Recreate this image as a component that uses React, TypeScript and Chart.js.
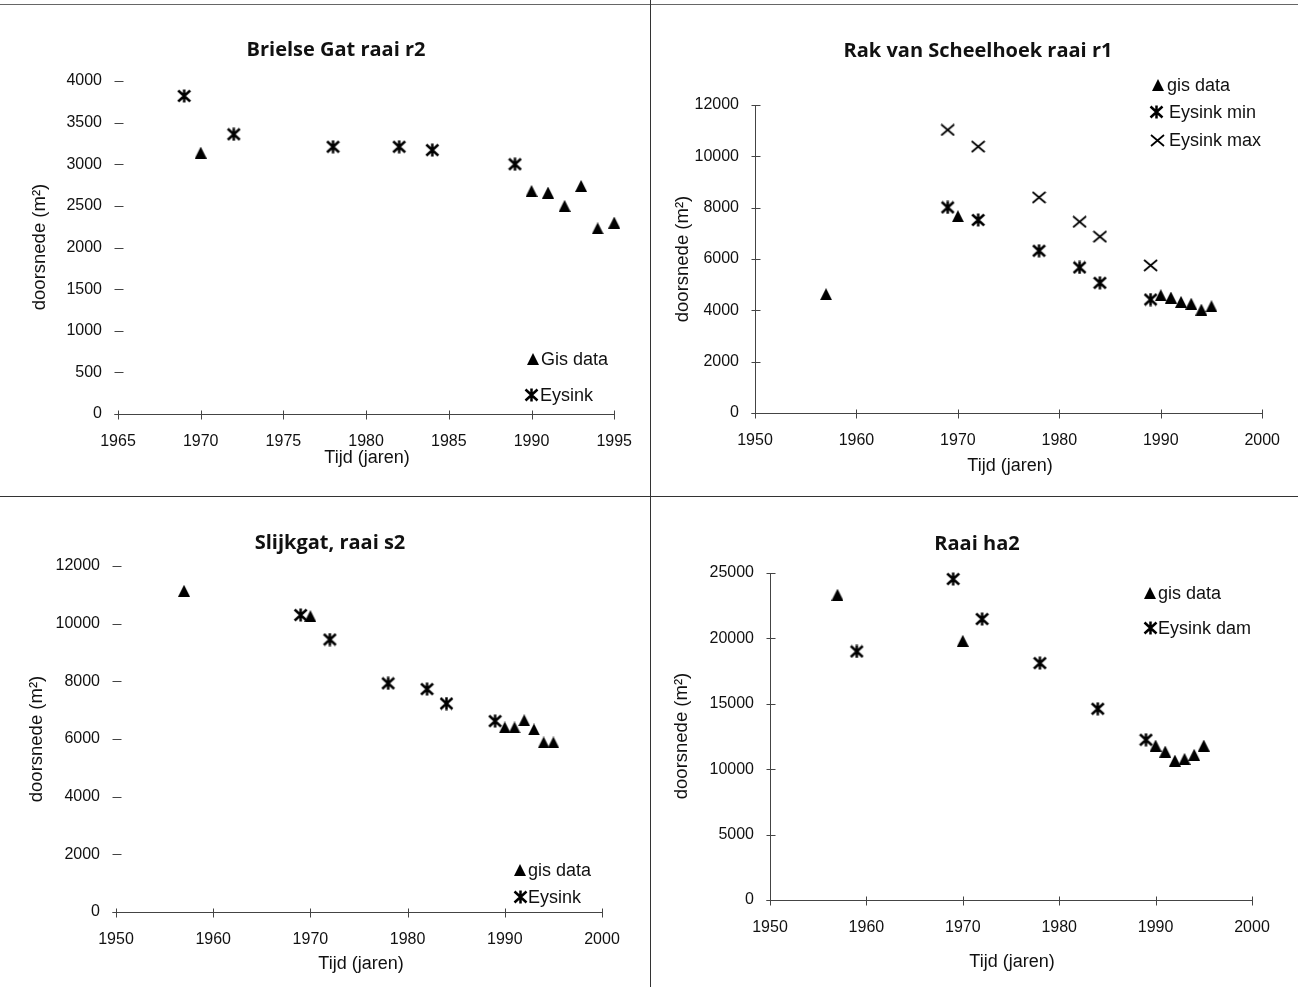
import React, { useEffect, useRef } from 'react';
import { Chart, registerables } from 'chart.js';

Chart.register(...registerables);

// ---------- DATA ----------
// Panel 1: Brielse Gat raai r2
const brielseGisYears = [1970, 1990, 1991, 1992, 1993, 1994, 1995];
const brielseGisValues = [3140, 2680, 2660, 2500, 2740, 2230, 2300];
const brielseEysinkYears = [1969, 1972, 1978, 1982, 1984, 1989];
const brielseEysinkValues = [3820, 3360, 3210, 3210, 3170, 3000];

// Panel 2: Rak van Scheelhoek raai r1
const rakGisYears = [1957, 1970, 1990, 1991, 1992, 1993, 1994, 1995];
const rakGisValues = [4630, 7670, 4590, 4500, 4330, 4260, 4030, 4160];
const rakEysinkMinYears = [1969, 1972, 1978, 1982, 1984, 1989];
const rakEysinkMinValues = [8010, 7520, 6320, 5670, 5070, 4420];
const rakEysinkMaxYears = [1969, 1972, 1978, 1982, 1984, 1989];
const rakEysinkMaxValues = [11030, 10380, 8400, 7450, 6870, 5750];

// Panel 3: Slijkgat, raai s2
const slijkGisYears = [1957, 1970, 1990, 1991, 1992, 1993, 1994, 1995];
const slijkGisValues = [11140, 10260, 6400, 6400, 6650, 6330, 5880, 5880];
const slijkEysinkYears = [1969, 1972, 1978, 1982, 1984, 1989];
const slijkEysinkValues = [10300, 9450, 7930, 7730, 7230, 6620];

// Panel 4: Raai ha2
const ha2GisYears = [1957, 1970, 1990, 1991, 1992, 1993, 1994, 1995];
const ha2GisValues = [23340, 19820, 11810, 11350, 10660, 10790, 11100, 11810];
const ha2EysinkYears = [1959, 1969, 1972, 1978, 1984, 1989];
const ha2EysinkValues = [19000, 24540, 21480, 18110, 14620, 12250];

// Axis settings [min, max, step]
const brielseXRange = [1965, 1995, 5];
const brielseYRange = [0, 4000, 500];
const rakXRange = [1950, 2000, 10];
const rakYRange = [0, 12000, 2000];
const slijkXRange = [1950, 2000, 10];
const slijkYRange = [0, 12000, 2000];
const ha2XRange = [1950, 2000, 10];
const ha2YRange = [0, 25000, 5000];

const yAxisTitle = 'doorsnede (m²)';
const xAxisTitle = 'Tijd (jaren)';

// ---------- MARKERS ----------
function makeTriangle(): HTMLCanvasElement {
  const c = document.createElement('canvas');
  c.width = 12; c.height = 12;
  const g = c.getContext('2d')!;
  g.fillStyle = '#000';
  g.beginPath();
  g.moveTo(6, 0); g.lineTo(12, 12); g.lineTo(0, 12); g.closePath();
  g.fill();
  return c;
}
function makeAsterisk(): HTMLCanvasElement {
  const c = document.createElement('canvas');
  c.width = 15; c.height = 14;
  const g = c.getContext('2d')!;
  g.strokeStyle = '#000';
  g.lineWidth = 2.5;
  g.beginPath();
  g.moveTo(1.5, 1.5); g.lineTo(13.5, 12.5);
  g.moveTo(13.5, 1.5); g.lineTo(1.5, 12.5);
  g.moveTo(7.5, 0.5); g.lineTo(7.5, 13.5);
  g.stroke();
  return c;
}
function makeCross(): HTMLCanvasElement {
  const c = document.createElement('canvas');
  c.width = 15; c.height = 13;
  const g = c.getContext('2d')!;
  g.strokeStyle = '#000';
  g.lineWidth = 1.7;
  g.beginPath();
  g.moveTo(1, 1); g.lineTo(14, 12);
  g.moveTo(14, 1); g.lineTo(1, 12);
  g.stroke();
  return c;
}

type MarkerKind = 'tri' | 'ast' | 'x';
type Series = { label: string; years: number[]; values: number[]; marker: MarkerKind; lx: number; ly: number; tx: number };
type PanelCfg = {
  left: number; top: number; width: number; height: number;
  area: { l: number; r: number; t: number; b: number };
  xr: number[]; yr: number[];
  title: string; titlePos: [number, number];
  yTitlePos: [number, number]; xTitlePos: [number, number];
  yAxisLine: boolean;
  series: Series[];
};

const panels: PanelCfg[] = [
  {
    left: 0, top: 0, width: 650, height: 496,
    area: { l: 118, r: 617, t: 81, b: 414 },
    xr: brielseXRange, yr: brielseYRange,
    title: 'Brielse Gat raai r2', titlePos: [336, 50],
    yTitlePos: [40, 247], xTitlePos: [367, 458], yAxisLine: false,
    series: [
      { label: 'Gis data', years: brielseGisYears, values: brielseGisValues, marker: 'tri', lx: 533, ly: 359, tx: 541 },
      { label: 'Eysink', years: brielseEysinkYears, values: brielseEysinkValues, marker: 'ast', lx: 531, ly: 395, tx: 540 },
    ],
  },
  {
    left: 650, top: 0, width: 648, height: 496,
    area: { l: 105, r: 615, t: 105, b: 413 },
    xr: rakXRange, yr: rakYRange,
    title: 'Rak van Scheelhoek raai r1', titlePos: [328, 51],
    yTitlePos: [33, 259], xTitlePos: [360, 466], yAxisLine: true,
    series: [
      { label: 'gis data', years: rakGisYears, values: rakGisValues, marker: 'tri', lx: 508, ly: 85, tx: 517 },
      { label: 'Eysink min', years: rakEysinkMinYears, values: rakEysinkMinValues, marker: 'ast', lx: 506, ly: 112, tx: 519 },
      { label: 'Eysink max', years: rakEysinkMaxYears, values: rakEysinkMaxValues, marker: 'x', lx: 507, ly: 140, tx: 519 },
    ],
  },
  {
    left: 0, top: 496, width: 650, height: 491,
    area: { l: 116, r: 602, t: 70, b: 416 },
    xr: slijkXRange, yr: slijkYRange,
    title: 'Slijkgat, raai s2', titlePos: [330, 47],
    yTitlePos: [37, 243], xTitlePos: [361, 468], yAxisLine: false,
    series: [
      { label: 'gis data', years: slijkGisYears, values: slijkGisValues, marker: 'tri', lx: 520, ly: 374, tx: 528 },
      { label: 'Eysink', years: slijkEysinkYears, values: slijkEysinkValues, marker: 'ast', lx: 520, ly: 401, tx: 528 },
    ],
  },
  {
    left: 650, top: 496, width: 648, height: 491,
    area: { l: 120, r: 602, t: 77, b: 404 },
    xr: ha2XRange, yr: ha2YRange,
    title: 'Raai ha2', titlePos: [327, 48],
    yTitlePos: [32, 240], xTitlePos: [362, 466], yAxisLine: true,
    series: [
      { label: 'gis data', years: ha2GisYears, values: ha2GisValues, marker: 'tri', lx: 500, ly: 97, tx: 508 },
      { label: 'Eysink dam', years: ha2EysinkYears, values: ha2EysinkValues, marker: 'ast', lx: 500, ly: 132, tx: 508 },
    ],
  },
];

const TEXT_FONT = '"Liberation Sans", Arial, sans-serif';
const TITLE_FONT = '"Open Sans", "DejaVu Sans", sans-serif';

function PanelChart({ cfg }: { cfg: PanelCfg }) {
  const ref = useRef<HTMLCanvasElement>(null);
  useEffect(() => {
    const canvas = ref.current!;
    const markers: Record<MarkerKind, HTMLCanvasElement> = {
      tri: makeTriangle(), ast: makeAsterisk(), x: makeCross(),
    };
    const { area, width, height } = cfg;

    const decor = {
      id: 'decor',
      beforeDatasetsDraw(chart: any) {
        const ctx = chart.ctx as CanvasRenderingContext2D;
        const xs = chart.scales.x;
        const ys = chart.scales.y;
        const y0 = Math.round(ys.getPixelForValue(cfg.yr[0])) + 0.5;
        const x0 = Math.round(xs.getPixelForValue(cfg.xr[0])) + 0.5;
        ctx.save();
        ctx.strokeStyle = '#444';
        ctx.lineWidth = 1;
        ctx.beginPath();
        ctx.moveTo(x0 - 4, y0);
        ctx.lineTo(Math.round(xs.getPixelForValue(cfg.xr[1])) + 0.5, y0);
        if (cfg.yAxisLine) {
          ctx.moveTo(x0, y0);
          ctx.lineTo(x0, Math.round(ys.getPixelForValue(cfg.yr[1])) + 0.5);
        }
        xs.ticks.forEach((t: any) => {
          const px = Math.round(xs.getPixelForValue(t.value)) + 0.5;
          ctx.moveTo(px, y0 - 4);
          ctx.lineTo(px, y0 + 5);
        });
        ys.ticks.forEach((t: any) => {
          const py = Math.round(ys.getPixelForValue(t.value)) + 0.5;
          ctx.moveTo(x0 - 4, py);
          ctx.lineTo(x0 + 5, py);
        });
        ctx.stroke();
        ctx.restore();
      },
      afterDraw(chart: any) {
        const ctx = chart.ctx as CanvasRenderingContext2D;
        ctx.save();
        ctx.fillStyle = '#111';
        // title
        ctx.font = `bold 20px ${TITLE_FONT}`;
        ctx.textAlign = 'center';
        ctx.textBaseline = 'middle';
        ctx.fillText(cfg.title, cfg.titlePos[0], cfg.titlePos[1]);
        // x title
        ctx.font = `18px ${TEXT_FONT}`;
        ctx.fillText(xAxisTitle, cfg.xTitlePos[0], cfg.xTitlePos[1]);
        // y title
        ctx.save();
        ctx.translate(cfg.yTitlePos[0], cfg.yTitlePos[1]);
        ctx.rotate(-Math.PI / 2);
        ctx.font = `18.5px ${TEXT_FONT}`;
        ctx.fillText(yAxisTitle, 0, 0);
        ctx.restore();
        // legend
        ctx.font = `18px ${TEXT_FONT}`;
        ctx.textAlign = 'left';
        cfg.series.forEach((s) => {
          const m = markers[s.marker];
          ctx.drawImage(m, Math.round(s.lx - m.width / 2), Math.round(s.ly - m.height / 2));
          ctx.fillText(s.label, s.tx, s.ly + 1);
        });
        ctx.restore();
      },
    };

    const chart = new Chart(canvas, {
      type: 'scatter',
      data: {
        datasets: cfg.series.map((s) => ({
          label: s.label,
          data: s.years.map((yr, i) => ({ x: yr, y: s.values[i] })),
          pointStyle: markers[s.marker] as any,
          pointRadius: 7,
          pointHoverRadius: 7,
          backgroundColor: '#000',
          borderColor: '#000',
          borderWidth: 0,
          showLine: false,
          clip: false as any,
        })),
      },
      options: {
        animation: false,
        responsive: false,
        events: [],
        layout: {
          padding: { left: 0, top: area.t, right: width - area.r, bottom: 0 },
        },
        plugins: { legend: { display: false }, tooltip: { enabled: false }, title: { display: false } },
        scales: {
          x: {
            type: 'linear',
            min: cfg.xr[0], max: cfg.xr[1],
            grid: { display: false, drawTicks: false },
            border: { display: false },
            ticks: {
              stepSize: cfg.xr[2],
              autoSkip: false,
              maxRotation: 0,
              padding: 18,
              color: '#111',
              font: { family: TEXT_FONT, size: 16 },
              callback: (v: any) => String(v),
            },
            afterFit: (scale: any) => { scale.height = height - area.b; },
          },
          y: {
            type: 'linear',
            min: cfg.yr[0], max: cfg.yr[1],
            grid: { display: false, drawTicks: false },
            border: { display: false },
            ticks: {
              stepSize: cfg.yr[2],
              padding: 16,
              color: '#111',
              font: { family: TEXT_FONT, size: 16 },
              callback: (v: any) => String(v),
            },
            afterFit: (scale: any) => { scale.width = area.l; },
          },
        },
      },
      plugins: [decor],
    } as any);
    return () => chart.destroy();
  }, [cfg]);

  return (
    <canvas
      ref={ref}
      width={cfg.width}
      height={cfg.height}
      style={{ position: 'absolute', left: cfg.left, top: cfg.top, width: cfg.width, height: cfg.height }}
    />
  );
}

export default function App() {
  return (
    <div style={{ position: 'absolute', left: 0, top: 0, width: 1298, height: 987, background: '#fff', overflow: 'hidden' }}>
      {panels.map((p, i) => <PanelChart key={i} cfg={p} />)}
      <div style={{ position: 'absolute', left: 0, top: 4, width: 1298, height: 1, background: '#666' }} />
      <div style={{ position: 'absolute', left: 0, top: 496, width: 1298, height: 1, background: '#333' }} />
      <div style={{ position: 'absolute', left: 650, top: 0, width: 1, height: 987, background: '#333' }} />
    </div>
  );
}
